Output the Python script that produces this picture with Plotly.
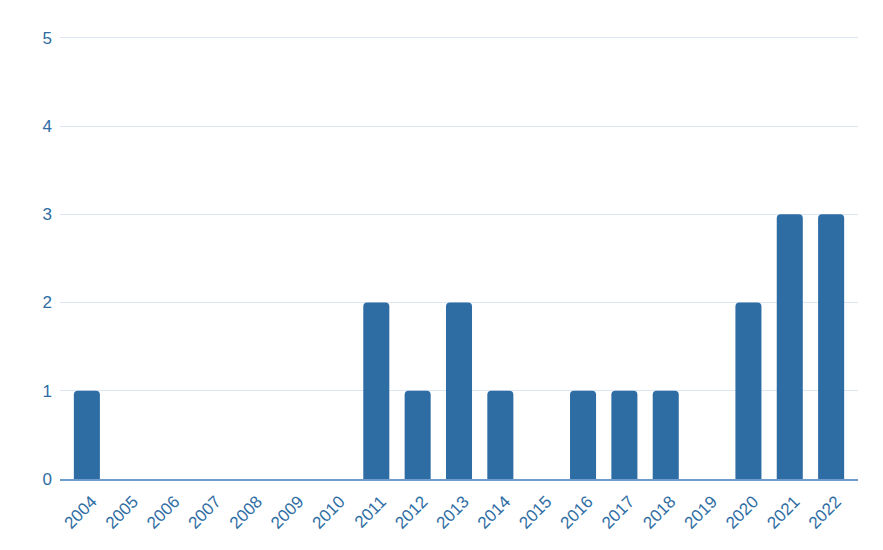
import plotly.graph_objects as go

years = [str(y) for y in range(2004, 2023)]
counts = [1, 0, 0, 0, 0, 0, 0, 2, 1, 2, 1, 0, 1, 1, 1, 0, 2, 3, 3]
yticks = [0, 1, 2, 3, 4, 5]

blue = "#2e6da4"
fig = go.Figure(go.Bar(x=years, y=counts, marker=dict(color=blue, line=dict(width=0))))
fig.update_layout(
    width=883, height=550,
    margin=dict(l=52, r=33, t=28, b=79),
    plot_bgcolor="white", paper_bgcolor="white",
    bargap=0.37, barcornerradius=4,
    showlegend=False,
    font=dict(family="Liberation Sans, Arial, sans-serif", size=17, color=blue),
)
fig.update_xaxes(type="category", range=[-0.65, 18.65], tickangle=-45, automargin=False,
                 showline=True, linecolor="#6f9ccc", linewidth=2,
                 ticklabelshift=5, ticklabelstandoff=4,
                 showgrid=False, ticks="", tickfont=dict(size=17, color=blue))
fig.update_yaxes(range=[0, 5.02], tickvals=yticks, showgrid=True, gridcolor="#dce6f3",
                 gridwidth=1.2, zeroline=False, showline=False, ticks="", automargin=False,
                 ticklabelstandoff=7, tickfont=dict(size=17, color=blue))
fig.write_html("out.html")
